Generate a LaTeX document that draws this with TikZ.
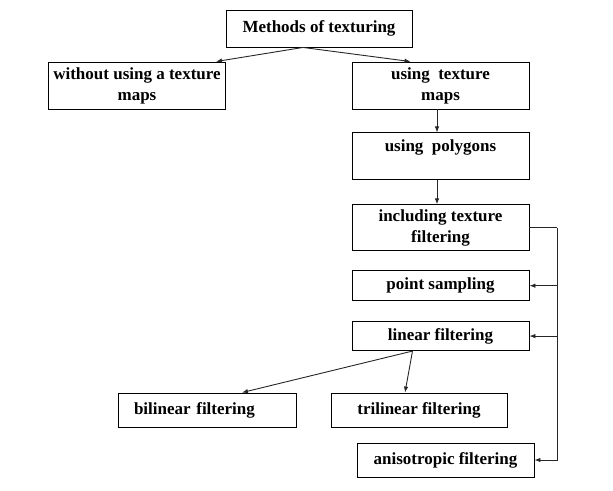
\documentclass[tikz,border=0pt]{standalone}
\usepackage{fontspec}
\setmainfont{Liberation Serif}
\usetikzlibrary{arrows.meta, positioning}
\tikzstyle{box} = [rectangle, minimum width=177pt, text centered, draw=black, line width=0.9pt, fill=white, inner sep=2pt, font=\fontsize{17}{21}\selectfont\bfseries]
\tikzstyle{arrow} = [line width=0.9pt, draw=black!85, -{Latex[length=6pt,width=4.5pt]}]
\tikzstyle{line} = [line width=0.9pt, draw=black!85]

\begin{document}
\begin{tikzpicture}[x=1pt, y=-1pt]
\useasboundingbox (0,0) rectangle (613,490);

% Nodes
\node (methods) [box, minimum width=186pt, minimum height=37pt] at (319,28.5) {Methods of texturing};
\node (without) [box, minimum height=47pt, align=center] at (137,85.5) {without using a texture\\maps};
\node (maps) [box, minimum height=47pt, align=center] at (440.5,85.5) {using\ \ texture\\maps};
\node (polygons) [box, minimum height=47pt, align=center, below=23pt of maps] {using\ \ polygons\\~};
\node (including) [box, minimum height=46pt, align=center, below=24pt of polygons] {including texture\\filtering};
\node (point) [box, minimum height=30pt, below=19pt of including] {point sampling};
\node (linear) [box, minimum height=29pt, below=20pt of point] {linear filtering};
\node (bilinear) [box, minimum height=34pt, text width=146pt, inner xsep=16pt, align=left] at (207,410) {bilinear filtering};
\node (trilinear) [box, minimum width=176pt, minimum height=34pt] at (419,410) {trilinear filtering};
\node (aniso) [box, minimum height=34pt] at (445.5,460) {anisotropic filtering};

% Arrows
\draw [arrow] ([xshift=-16pt]methods.south) -- ([xshift=-10pt]without.north east);
\draw [arrow] ([xshift=-16pt]methods.south) -- ([xshift=-30pt]maps.north);
\draw [arrow] ([xshift=-3.5pt]maps.south) -- ([xshift=-3.5pt]polygons.north);
\draw [arrow] ([xshift=-3.5pt]polygons.south) -- ([xshift=-3.5pt]including.north);
\draw [arrow] ([xshift=-28pt]linear.south) -- ([xshift=35pt]bilinear.north);
\draw [arrow] ([xshift=-28pt]linear.south) -- ([xshift=-14pt]trilinear.north);

% Side bus
\draw [line] (including.east) -- ++(28pt,0) coordinate (bustop);
\draw [arrow] (bustop) |- (aniso.east);
\draw [arrow] (bustop |- point.east) -- (point.east);
\draw [arrow] (bustop |- linear.east) -- (linear.east);

\end{tikzpicture}
\end{document}
